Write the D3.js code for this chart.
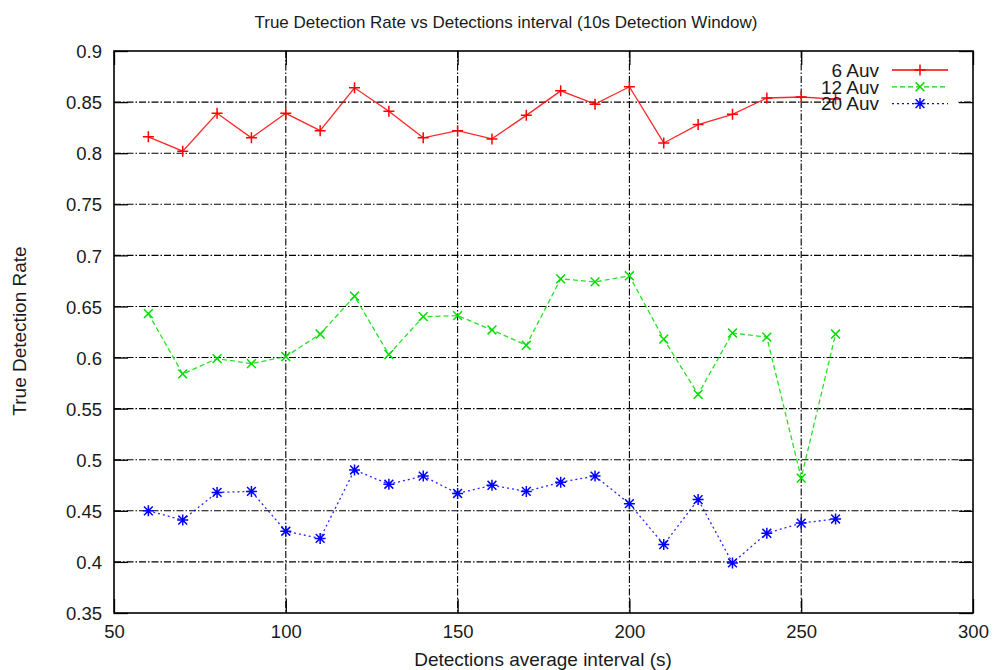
<!DOCTYPE html>
<html><head><meta charset="utf-8">
<script src="https://cdn.jsdelivr.net/npm/d3@7/dist/d3.min.js"></script>
<style>body{margin:0;background:#fff}svg{display:block}text{font-family:"Liberation Sans",Arial,Helvetica,sans-serif;fill:#1a1a1a}</style>
</head><body>
<svg id="chart" width="994" height="670"></svg>
<script>
const xValues = [60,70,80,90,100,110,120,130,140,150,160,170,180,190,200,210,220,230,240,250,260];
const auv6  = [0.816,0.802,0.839,0.815,0.839,0.822,0.864,0.841,0.815,0.822,0.814,0.837,0.861,0.848,0.865,0.810,0.828,0.838,0.854,0.855,0.853];
const auv12 = [0.643,0.584,0.599,0.594,0.601,0.623,0.660,0.603,0.640,0.641,0.627,0.612,0.677,0.674,0.680,0.618,0.564,0.624,0.620,0.482,0.623];
const auv20 = [0.450,0.441,0.468,0.469,0.430,0.423,0.490,0.476,0.484,0.467,0.475,0.469,0.478,0.484,0.457,0.417,0.461,0.399,0.428,0.438,0.442];
const seriesNames = ["6 Auv","12 Auv","20 Auv"];
const xTicks = [50,100,150,200,250,300];
const yTicks = [0.35,0.4,0.45,0.5,0.55,0.6,0.65,0.7,0.75,0.8,0.85,0.9];
const titleText = "True Detection Rate vs Detections interval (10s Detection Window)";
const xLabel = "Detections average interval (s)";
const yLabel = "True Detection Rate";

const svg = d3.select("#chart");
const L = 114, R = 973, T = 51, B = 613;
const x = d3.scaleLinear().domain([50,300]).range([L,R]);
const y = d3.scaleLinear().domain([0.35,0.9]).range([B,T]);

// grid
const grid = svg.append("g").attr("stroke","#000").attr("stroke-width",1.1).attr("stroke-dasharray","7,2,1.5,2");
grid.selectAll(".gx").data(xTicks.slice(1,-1)).join("line")
  .attr("x1",d=>x(d)).attr("x2",d=>x(d)).attr("y1",T).attr("y2",B);
grid.selectAll(".gy").data(yTicks.slice(1,-1)).join("line")
  .attr("y1",d=>y(d)).attr("y2",d=>y(d)).attr("x1",L).attr("x2",R);

// legend background
svg.append("rect").attr("x",833).attr("y",58).attr("width",125).attr("height",56).attr("fill","#fff");

// axes with inward ticks
const tk = 14;
const fs = "18.5px";
const ax = svg.append("g").attr("transform",`translate(0,${B})`)
  .call(d3.axisBottom(x).tickValues(xTicks).tickSize(-tk).tickPadding(12).tickFormat(d3.format("d")));
const axT = svg.append("g").attr("transform",`translate(0,${T})`)
  .call(d3.axisTop(x).tickValues(xTicks).tickSize(-tk).tickFormat(""));
const ay = svg.append("g").attr("transform",`translate(${L},0)`)
  .call(d3.axisLeft(y).tickValues(yTicks).tickSize(-tk).tickPadding(12).tickFormat(d=>String(+d.toFixed(2))));
const ayR = svg.append("g").attr("transform",`translate(${R},0)`)
  .call(d3.axisRight(y).tickValues(yTicks).tickSize(-tk).tickFormat(""));
[ax,axT,ay,ayR].forEach(g=>{
  g.select(".domain").remove();
  g.selectAll(".tick line").attr("stroke","#000").attr("stroke-width",1.3);
  g.selectAll("text").style("font-size",fs).attr("fill","#1a1a1a");
});
ay.selectAll("text").attr("dy","0.36em");
ax.selectAll("text").attr("dy","0.71em");

svg.append("rect").attr("x",L).attr("y",T).attr("width",R-L).attr("height",B-T)
  .attr("fill","none").attr("stroke","#000").attr("stroke-width",1.6);

// series
const colors = ["#ff0000","#00dd00","#0000ff"];
const dashes = [null,"5,3","2,3"];
const data = [auv6,auv12,auv20];
const line = d3.line().x((d,i)=>x(xValues[i])).y(d=>y(d));
function marker(g, type, cx, cy, color){
  const s = 5.5;
  const p = g.append("path").attr("fill","none").attr("stroke",color).attr("stroke-width",1.5);
  if(type===0) p.attr("d",`M${cx-s},${cy}H${cx+s}M${cx},${cy-s}V${cy+s}`);
  else if(type===1) p.attr("d",`M${cx-s*0.8},${cy-s*0.8}L${cx+s*0.8},${cy+s*0.8}M${cx-s*0.8},${cy+s*0.8}L${cx+s*0.8},${cy-s*0.8}`);
  else { const a=s*0.8; p.attr("d",`M${cx-s},${cy}H${cx+s}M${cx},${cy-s}V${cy+s}M${cx-a},${cy-a}L${cx+a},${cy+a}M${cx-a},${cy+a}L${cx+a},${cy-a}`); }
}
data.forEach((vals,k)=>{
  const g = svg.append("g");
  g.append("path").datum(vals).attr("d",line).attr("fill","none")
    .attr("stroke",colors[k]).attr("stroke-width",1.3).attr("stroke-opacity",0.85)
    .attr("stroke-dasharray",dashes[k]);
  vals.forEach((v,i)=>marker(g,k,x(xValues[i]),y(v),colors[k]));
});

// legend
const lg = svg.append("g");
seriesNames.forEach((n,k)=>{
  const yy = 70 + k*16.8;
  lg.append("text").attr("x",879).attr("y",yy).attr("dy","0.36em").attr("text-anchor","end")
    .style("font-size","19px").text(n);
  lg.append("line").attr("x1",892).attr("x2",948).attr("y1",yy).attr("y2",yy)
    .attr("stroke",colors[k]).attr("stroke-width",1.3).attr("stroke-dasharray",dashes[k]);
  marker(lg,k,920,yy,colors[k]);
});

// titles
svg.append("text").attr("x",506).attr("y",28).attr("text-anchor","middle").style("font-size","17px").text(titleText);
svg.append("text").attr("x",543).attr("y",666).attr("text-anchor","middle").style("font-size","19px").text(xLabel);
svg.append("text").attr("transform","translate(26,331) rotate(-90)").attr("text-anchor","middle").style("font-size","19px").text(yLabel);
</script>
</body></html>
